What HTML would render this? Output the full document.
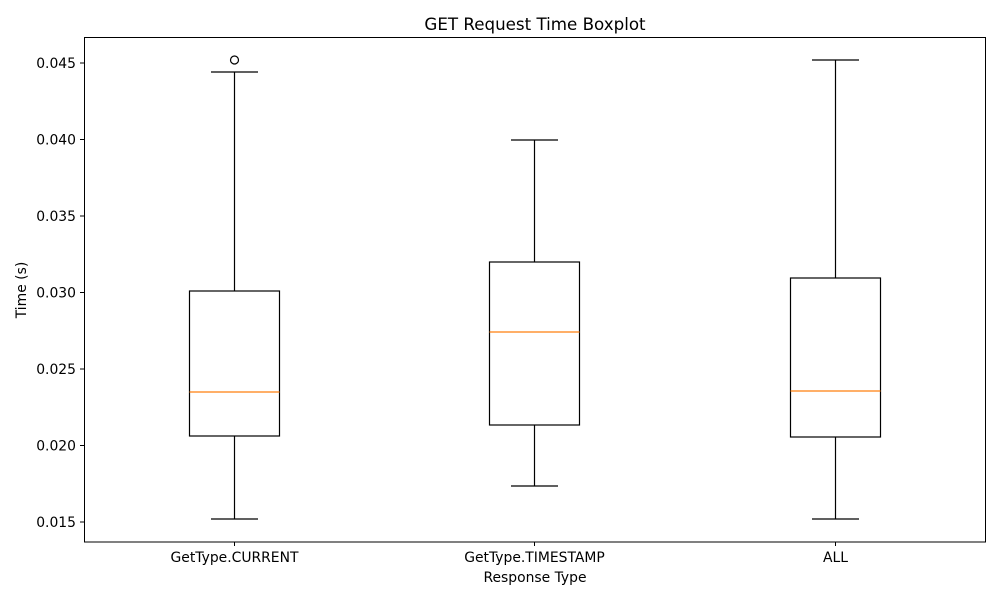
<!DOCTYPE html>
<html><head><meta charset="utf-8"><style>html,body{margin:0;padding:0;background:#fff}svg{display:block}</style></head><body>
<svg width="1000" height="600" xmlns="http://www.w3.org/2000/svg" font-family="DejaVu Sans, Liberation Sans, sans-serif" font-size="13.9">
<rect width="1000" height="600" fill="#fff"/>
<text x="535" y="30" text-anchor="middle" font-size="16.7">GET Request Time Boxplot</text>
<g stroke="#000" stroke-width="1.2" fill="none">
<line x1="234.5" y1="72" x2="234.5" y2="291"/><line x1="211" y1="72" x2="258" y2="72"/>
<line x1="234.5" y1="436" x2="234.5" y2="519"/><line x1="211" y1="519" x2="258" y2="519"/>
<rect x="189.5" y="291" width="90" height="145"/>
<circle cx="234.5" cy="60" r="4"/>
<line x1="534.5" y1="140" x2="534.5" y2="262"/><line x1="511" y1="140" x2="558" y2="140"/>
<line x1="534.5" y1="425" x2="534.5" y2="486"/><line x1="511" y1="486" x2="558" y2="486"/>
<rect x="489.5" y="262" width="90" height="163"/>
<line x1="835.5" y1="60" x2="835.5" y2="278"/><line x1="812" y1="60" x2="859" y2="60"/>
<line x1="835.5" y1="437" x2="835.5" y2="519"/><line x1="812" y1="519" x2="859" y2="519"/>
<rect x="790.5" y="278" width="90" height="159"/>
</g>
<g stroke="#ff7f0e" stroke-width="1.2">
<line x1="189.5" y1="392" x2="279.5" y2="392"/>
<line x1="489.5" y1="332" x2="579.5" y2="332"/>
<line x1="790.5" y1="391" x2="880.5" y2="391"/>
</g>
<rect x="84.5" y="37.5" width="901" height="504.5" fill="none" stroke="#000" stroke-width="1"/>
<g stroke="#000" stroke-width="1">
<line x1="80" y1="63" x2="84" y2="63"/><line x1="80" y1="139.5" x2="84" y2="139.5"/>
<line x1="80" y1="216" x2="84" y2="216"/><line x1="80" y1="292.5" x2="84" y2="292.5"/>
<line x1="80" y1="369" x2="84" y2="369"/><line x1="80" y1="445.5" x2="84" y2="445.5"/>
<line x1="80" y1="522" x2="84" y2="522"/>
<line x1="234.5" y1="542" x2="234.5" y2="546"/><line x1="534.5" y1="542" x2="534.5" y2="546"/><line x1="835.5" y1="542" x2="835.5" y2="546"/>
</g>
<g text-anchor="end">
<text x="76" y="68">0.045</text><text x="76" y="144.5">0.040</text><text x="76" y="221">0.035</text>
<text x="76" y="297.5">0.030</text><text x="76" y="374">0.025</text><text x="76" y="450.5">0.020</text><text x="76" y="527">0.015</text>
</g>
<g text-anchor="middle">
<text x="234.5" y="562">GetType.CURRENT</text><text x="534.5" y="562">GetType.TIMESTAMP</text><text x="835.5" y="562">ALL</text>
<text x="535" y="582">Response Type</text>
</g>
<text transform="translate(26,290) rotate(-90)" text-anchor="middle">Time (s)</text>
</svg>
</body></html>
